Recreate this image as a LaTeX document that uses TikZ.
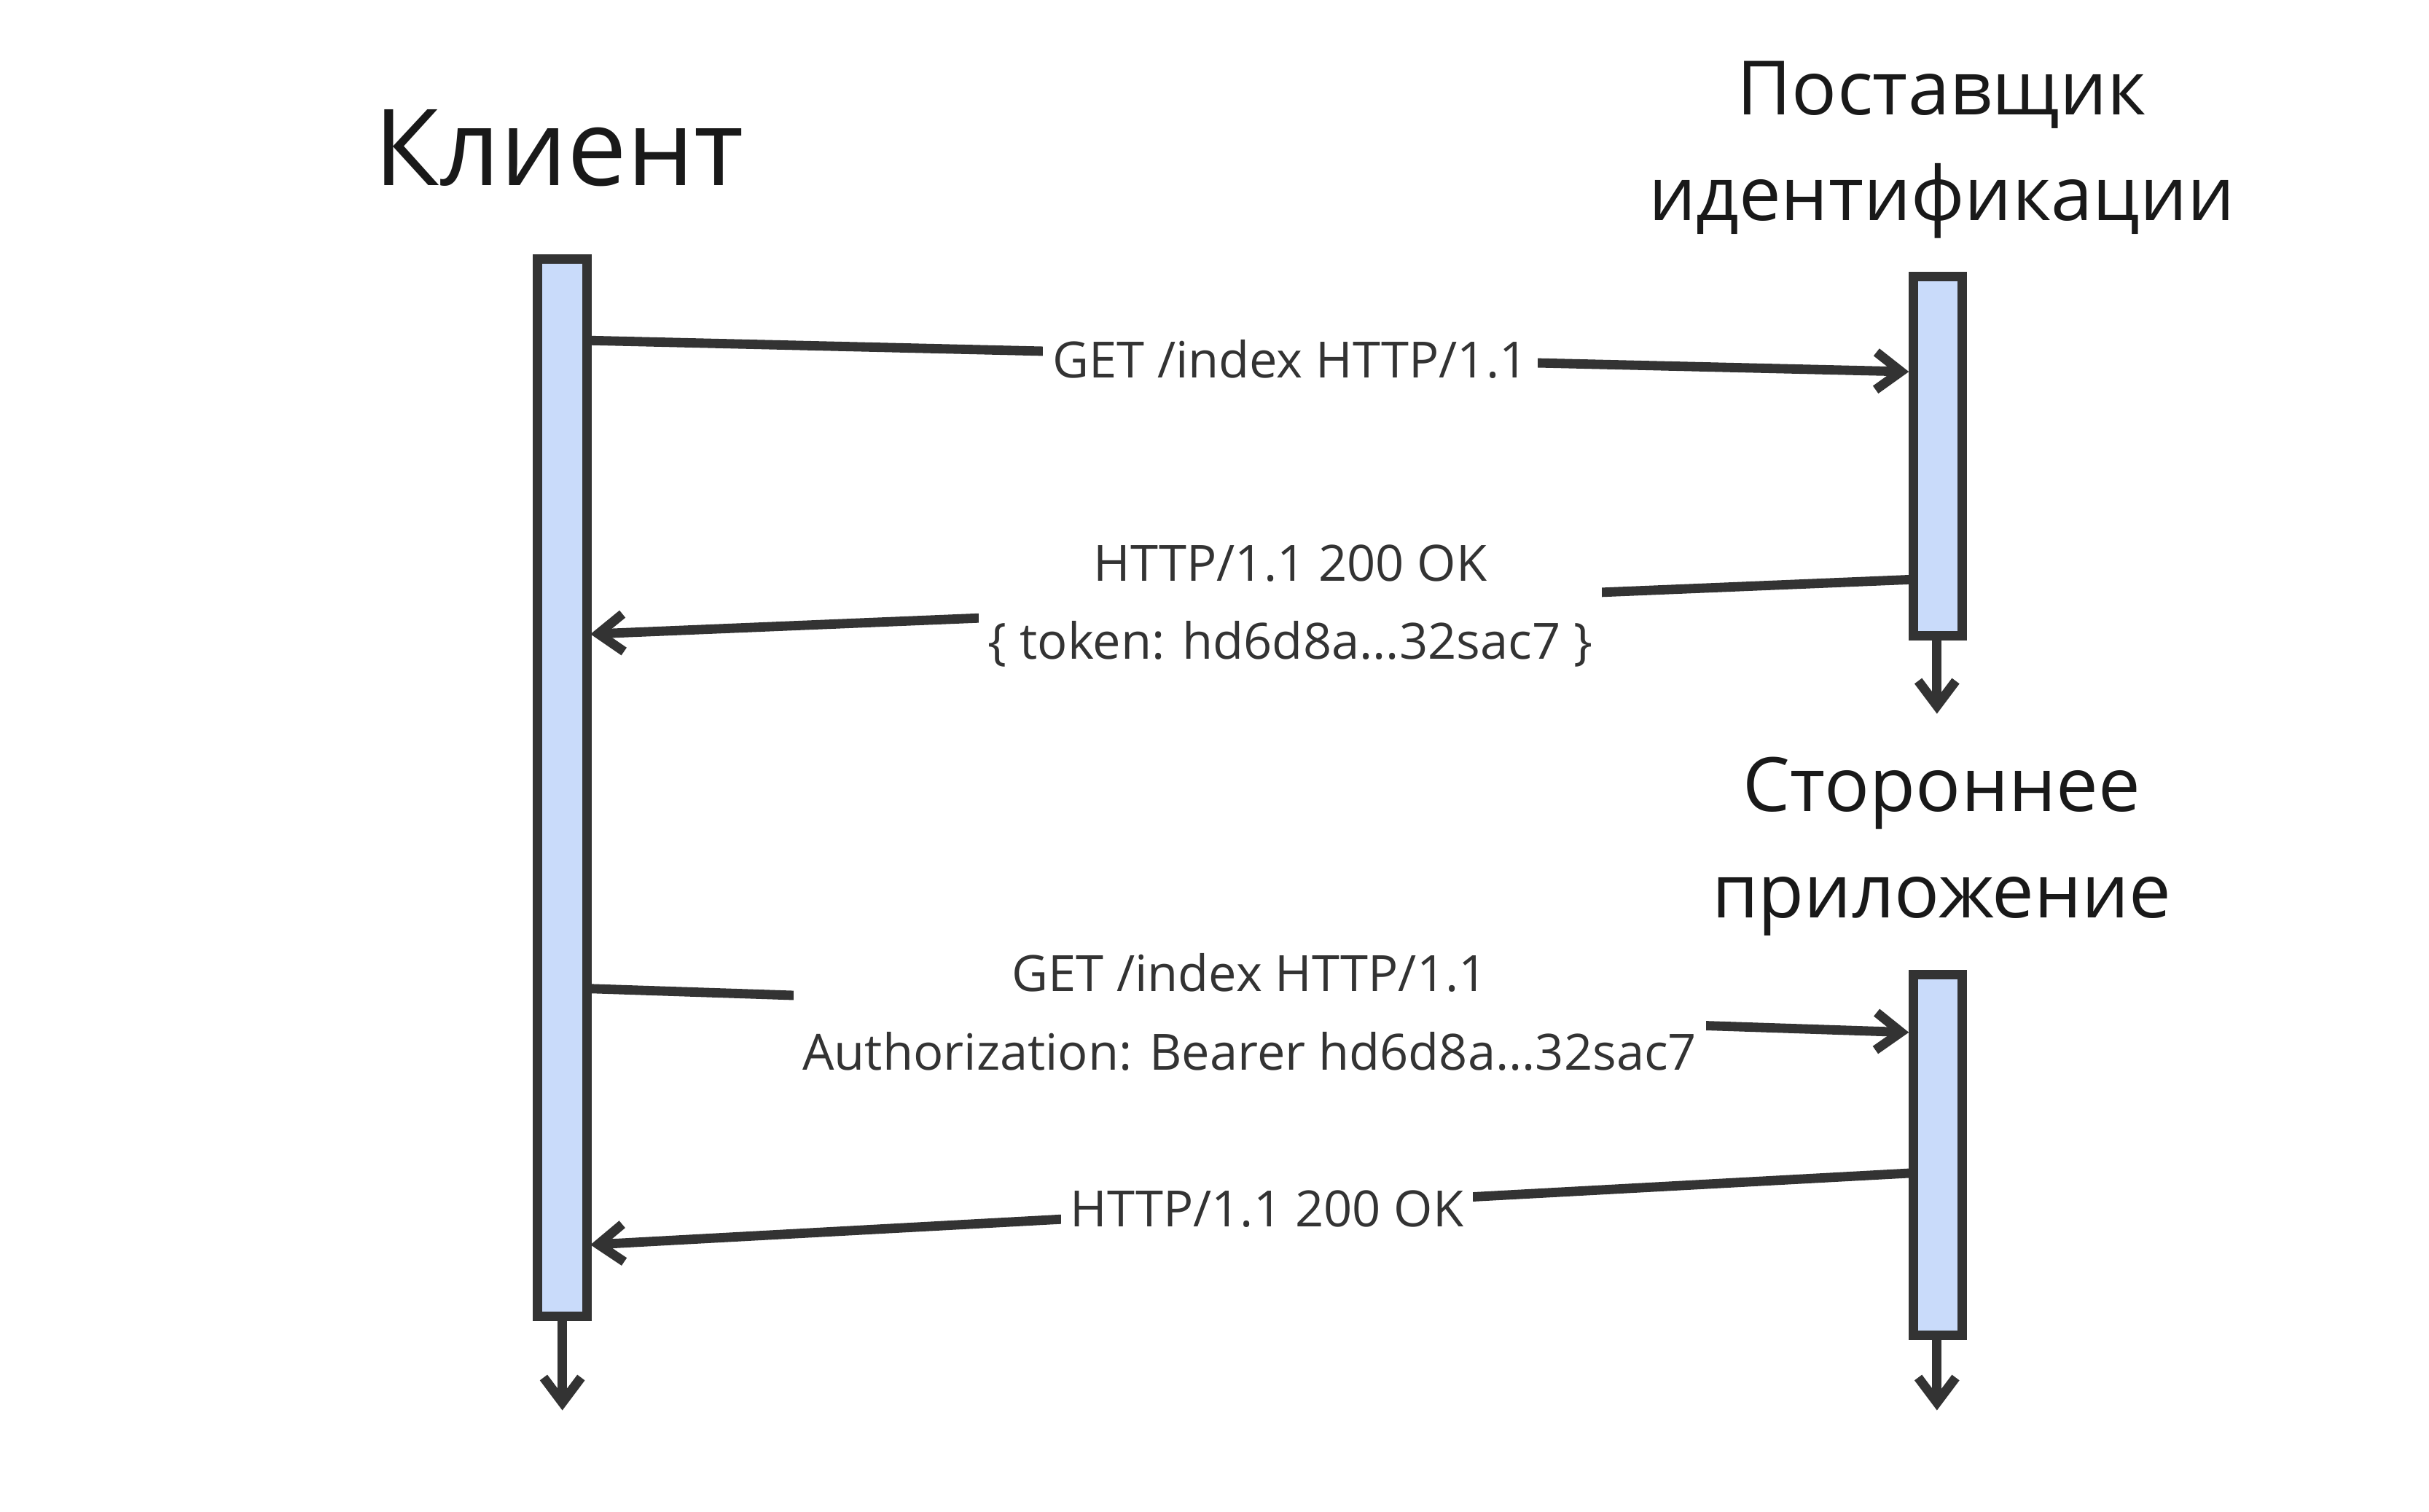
\documentclass[tikz,border=0pt]{standalone}
\usepackage{fontspec}
\setmainfont{Open Sans}
\usetikzlibrary{arrows.meta}
\begin{document}
\begin{tikzpicture}[x=0.5pt,y=-0.5pt,
  bar/.style={draw=black!80,fill={rgb,255:red,201;green,219;blue,250},line width=3pt,inner sep=0pt},
  msg/.style={draw=black!80,line width=3pt,-{Straight Barb[length=8pt,width=12pt,line width=3pt]}},
  lbl/.style={fill=white,text=black!80,font=\fontsize{16}{25}\selectfont,align=center,inner sep=3pt},
  ttl/.style={text=black!90,font=\fontsize{24}{34}\selectfont,align=center}]
\useasboundingbox (0,0) rectangle (1555,968);
\node[bar,minimum width=16pt,minimum height=338.5pt] (client) at (360,504.5) {};
\node[bar,minimum width=15.5pt,minimum height=115pt] (idp) at (1240.5,292) {};
\node[bar,minimum width=15.5pt,minimum height=115.5pt] (app) at (1240.5,739.5) {};
\node[ttl,font=\fontsize{34}{40}\selectfont] (tc) at (358,95) {Клиент};
\node[ttl] (ti) at (1243,96) {Поставщик\\идентификации};
\node[ttl] (ta) at (1243,542) {Стороннее\\приложение};
\coordinate (c1) at (360,843); \coordinate (c2) at (360,903);
\coordinate (i1) at (1240,407); \coordinate (i2) at (1240,457);
\coordinate (a1) at (1240,855); \coordinate (a2) at (1240,903);
\draw[msg] (c1) -- (c2);
\draw[msg] (i1) -- (i2);
\draw[msg] (a1) -- (a2);
\coordinate (m1s) at (378,218); \coordinate (m1e) at (1222,238);
\coordinate (m2s) at (1225,371); \coordinate (m2e) at (378,406);
\coordinate (m3s) at (378,633); \coordinate (m3e) at (1222,661);
\coordinate (m4s) at (1225,751); \coordinate (m4e) at (378,797);
\draw[msg] (m1s) -- (m1e);
\draw[msg] (m2s) -- (m2e);
\draw[msg] (m3s) -- (m3e);
\draw[msg] (m4s) -- (m4e);
\node[lbl] (l1) at (826,230) {GET /index HTTP/1.1};
\node[lbl] (l2) at (826,388) {HTTP/1.1 200 OK\\\{ token: hd6d8a...32sac7 \}};
\node[lbl] (l3) at (800,648) {GET /index HTTP/1.1\\Authorization: Bearer hd6d8a...32sac7};
\node[lbl] (l4) at (811,774) {HTTP/1.1 200 OK};
\end{tikzpicture}
\end{document}
